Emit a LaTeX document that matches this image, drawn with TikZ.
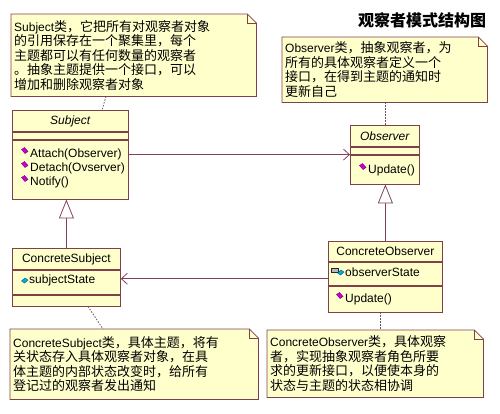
\documentclass[tikz,border=0pt]{standalone}
\usepackage{fontspec}
\setmainfont{Liberation Sans}
\newfontfamily\cjk{Noto Sans CJK SC}
\usetikzlibrary{arrows.meta,positioning,calc,backgrounds}

\definecolor{umlfill}{RGB}{255,255,204}
\definecolor{umlline}{RGB}{128,64,72}
\definecolor{linkcol}{RGB}{128,64,96}
\definecolor{dotcol}{RGB}{110,80,100}
\definecolor{methcol}{RGB}{204,0,204}
\definecolor{attrcol}{RGB}{0,170,235}

\newcommand{\eng}[1]{{\rmfamily\fontsize{12}{14.5}\selectfont #1}}
\newcommand{\methicon}[1]{\filldraw[fill=methcol,draw=methcol!55!black,line width=0.4pt,shift={($(#1)+(-5,-3.5)$)}] (-3.5,-1) -- (-0.5,-3) -- (3,1) -- (0,3) -- cycle;}
\newcommand{\attricon}[1]{\filldraw[fill=attrcol,draw=attrcol!50!black,line width=0.4pt,shift={($(#1)+(-4,0.5)$)}] (-3.5,0.5) -- (0,-2.5) -- (3,-0.5) -- (-0.5,2.5) -- cycle;}
\newcommand{\lockicon}[1]{\draw[gray!40!black,line width=0.8pt,shift={($(#1)+(-10,-3)$)}] (-2,-1) arc (180:0:2 and 2.5); \filldraw[fill=gray!55,draw=gray!30!black,line width=0.4pt,shift={($(#1)+(-10,-3)$)}] (-3.5,-1) rectangle (3.5,3);}

\tikzset{
  cls/.style={draw=umlline, fill=umlfill, line width=0.8pt, inner sep=0pt, anchor=north west, font=\fontsize{12}{12}\selectfont},
  member/.style={anchor=west, inner sep=0pt, font=\fontsize{12}{12}\selectfont},
  note/.style={anchor=north west, inner xsep=3pt, inner ysep=0pt, align=left, font=\cjk\fontsize{13}{14.5}\selectfont},
  notebox/.style={draw=umlline, fill=umlfill, line width=0.8pt},
  assoc/.style={draw=linkcol, line width=0.8pt, -{Straight Barb[length=6pt,width=11pt]}},
  inherit/.style={draw=linkcol, line width=0.8pt, -{Triangle[open,length=19pt,width=15pt,fill=white]}},
  anchorline/.style={draw=dotcol, line width=0.8pt, dash pattern=on 1.5pt off 1.5pt},
}

\begin{document}
\begin{tikzpicture}[x=1pt,y=-1pt,>=Latex]
\useasboundingbox (0,0) rectangle (500,413);

\node[font=\cjk\bfseries\fontsize{16}{16}\selectfont] (title) at (422,20) {观察者模式结构图};

% notes
\node[note, text width=239, minimum height=82] (n1) at (11,14)
  {\eng{Subject}类，它把所有对观察者对象\\的引用保存在一个聚集里，每个\\主题都可以有任何数量的观察者\\。抽象主题提供一个接口，可以\\增加和删除观察者对象};
\node[note, text width=199, minimum height=65] (n2) at (282,37)
  {\eng{Observer}类，抽象观察者，为\\所有的具体观察者定义一个\\接口，在得到主题的通知时\\更新自己};
\node[note, text width=242, minimum height=70] (n3) at (10,329)
  {\eng{ConcreteSubject}类，具体主题，将有\\关状态存入具体观察者对象，在具\\体主题的内部状态改变时，给所有\\登记过的观察者发出通知};
\node[note, text width=210, minimum height=67] (n4) at (267,330)
  {\eng{ConcreteObserver}类，具体观察\\者，实现抽象观察者角色所要\\求的更新接口，以便使本身的\\状态与主题的状态相协调};

\begin{scope}[on background layer]
\foreach \n in {n1,n2,n3,n4} {
  \filldraw[notebox] (\n.north west) -- ([xshift=-9pt]\n.north east) -- ([yshift=-9pt]\n.north east) -- (\n.south east) -- (\n.south west) -- cycle;
  \draw[notebox, fill=none] ([xshift=-9pt]\n.north east) |- ([yshift=-9pt]\n.north east);
}
\end{scope}

% Subject
\node[cls, minimum width=116, minimum height=21] (subname) at (12,110) {\textit{Subject}};
\node[cls, minimum width=116, minimum height=7] (subattr) at (subname.south west) {};
\node[cls, minimum width=116, minimum height=59] (subops) at (subattr.south west) {};
\node[member] (attach) at (30,154) {Attach(Observer)};
\node[member] (detach) at (30,168) {Detach(Ovserver)};
\node[member] (notify) at (30,182) {Notify()};

% Observer
\node[cls, minimum width=69, minimum height=21] (obsname) at (350,125) {\textit{Observer}};
\node[cls, minimum width=69, minimum height=7] (obsattr) at (obsname.south west) {};
\node[cls, minimum width=69, minimum height=29] (obsops) at (obsattr.south west) {};
\node[member] (update) at (368,170) {Update()};

% ConcreteSubject
\node[cls, minimum width=108, minimum height=21] (csname) at (12,248) {ConcreteSubject};
\node[cls, minimum width=108, minimum height=24] (csattr) at (csname.south west) {};
\node[cls, minimum width=108, minimum height=11] (csops) at (csattr.south west) {};
\node[member] (substate) at (29,280) {subjectState};

% ConcreteObserver
\node[cls, minimum width=114, minimum height=20] (coname) at (328,241) {ConcreteObserver};
\node[cls, minimum width=114, minimum height=23] (coattr) at (coname.south west) {};
\node[cls, minimum width=114, minimum height=26] (coops) at (coattr.south west) {};
\node[member] (obsstate) at (345,272) {observerState};
\node[member] (cupdate) at (345,299) {Update()};

\foreach \m in {attach,detach,notify,update,cupdate} {\methicon{\m.west}}
\attricon{substate.west}
\lockicon{obsstate.west}
\attricon{obsstate.west}

% connectors
\draw[assoc] (subops.east |- obsattr.south west) -- (obsattr.south west);
\coordinate (cofrom) at ([yshift=-5pt]coattr.west);
\draw[assoc] (cofrom) -- (csattr.east |- cofrom);
\draw[inherit] (csname.north) -- (csname.north |- subops.south);
\draw[inherit] (coname.north) -- (coname.north |- obsops.south);

\draw[anchorline] (n1.south -| 106,0) -- (subname.north -| 102,0);
\draw[anchorline] (n2.south -| obsname.north) -- (obsname.north);
\draw[anchorline] (csops.south -| 88,0) -- (n3.north -| 103,0);
\draw[anchorline] (coops.south -| 380,0) -- (n4.north -| 380,0);
\end{tikzpicture}
\end{document}
